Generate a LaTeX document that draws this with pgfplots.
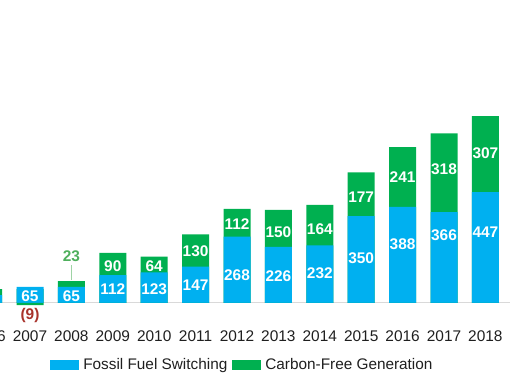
\documentclass[border=0pt]{standalone}
\usepackage{fontspec}
\setmainfont{Liberation Sans}
\usepackage{pgfplots}
\usepackage{pgfplotstable}
\pgfplotsset{compat=1.18}
\definecolor{ffsblue}{HTML}{00B0F0}
\definecolor{cfggreen}{HTML}{00B050}
\definecolor{lblgreen}{HTML}{4EAF5C}
\definecolor{negred}{HTML}{A8322A}
\definecolor{axgray}{HTML}{D9D9D9}

\pgfplotstableread{
x ffs cfg
-1 32 24
0 65 -9
1 65 23
2 112 90
3 123 64
4 147 130
5 268 112
6 226 150
7 232 164
8 350 177
9 388 241
10 366 318
11 447 307
}\bars

\pgfplotstableread{
x ffs ffsy
0 65 28
1 65 28
2 112 56
3 123 56
4 147 73
5 268 113
6 226 109
7 232 121
8 350 181
9 388 238
10 366 274
11 447 286
}\bluelabels

\pgfplotstableread{
x cfg cfgy
2 90 149
3 64 149
4 130 210
5 112 319
6 150 286
7 164 298
8 177 427
9 241 508
10 318 540
11 307 605
}\greenlabels

\begin{document}
\begin{tikzpicture}
\clip (0,0) rectangle (510bp,382bp);
\begin{axis}[
  at={(-36.24bp,79bp)}, anchor=south west,
  x=41.4bp, y=0.248bp,
  xmin=-1.6, xmax=11.9, ymin=0, ymax=800,
  clip=false,
  axis y line=none,
  axis x line=bottom,
  x axis line style={-, draw=axgray, line width=1bp},
  xtick={-1,0,...,11},
  xticklabels={2006,2007,2008,2009,2010,2011,2012,2013,2014,2015,2016,2017,2018},
  major tick length=0pt,
  xticklabel style={font=\fontsize{15.5}{18}\selectfont, text=black!88, anchor=base, yshift=-38.5bp},
  legend image code/.code={\fill[#1] (0bp,-5bp) rectangle (29bp,5bp); \path (31bp,0bp);},
  legend style={draw=none, fill=none, legend columns=2,
    at={(axis cs:5.13,-250)}, anchor=center,
    font=\fontsize{15.4}{18}\selectfont, text=black!88,
    inner sep=0pt,
    nodes={inner sep=2bp},
    /tikz/every even column/.append style={column sep=3bp}},
]
\addlegendimage{fill=ffsblue, draw=none}
\addlegendentry{Fossil Fuel Switching}
\addlegendimage{fill=cfggreen, draw=none}
\addlegendentry{Carbon-Free Generation}

\addplot[ybar, bar width=27bp, bar shift=0pt, fill=cfggreen, draw=none, forget plot]
  table[x=x, y expr={\thisrow{ffs}+\thisrow{cfg}}] {\bars};
\addplot[ybar, bar width=27bp, bar shift=0pt, fill=ffsblue, draw=none, forget plot]
  table[x=x, y=ffs] {\bars};
\addplot[ybar, bar width=27bp, bar shift=0pt, fill=cfggreen, draw=none, forget plot]
  table[x=x, y expr={min(\thisrow{cfg},0)}] {\bars};

\addplot[draw=none, forget plot, nodes near coords, point meta=explicit symbolic,
  every node near coord/.append style={anchor=center, text=white, font=\bfseries\fontsize{15.5}{18}\selectfont}]
  table[x=x, y=ffsy, meta=ffs] {\bluelabels};
\addplot[draw=none, forget plot, nodes near coords, point meta=explicit symbolic,
  every node near coord/.append style={anchor=center, text=white, font=\bfseries\fontsize{15.5}{18}\selectfont}]
  table[x=x, y=cfgy, meta=cfg] {\greenlabels};

\addplot[draw=lblgreen!55, line width=0.8bp, forget plot] coordinates {(1,94) (1,152)};
\addplot[draw=none, forget plot, nodes near coords, point meta=explicit symbolic,
  every node near coord/.append style={anchor=center, text=lblgreen, font=\bfseries\fontsize{15.5}{18}\selectfont}]
  coordinates {(1,187) [23]};
\addplot[draw=none, forget plot, nodes near coords, point meta=explicit symbolic,
  every node near coord/.append style={anchor=center, text=negred, font=\bfseries\fontsize{15.5}{18}\selectfont}]
  coordinates {(0,-52) [(9)]};
\end{axis}
\end{tikzpicture}
\end{document}
